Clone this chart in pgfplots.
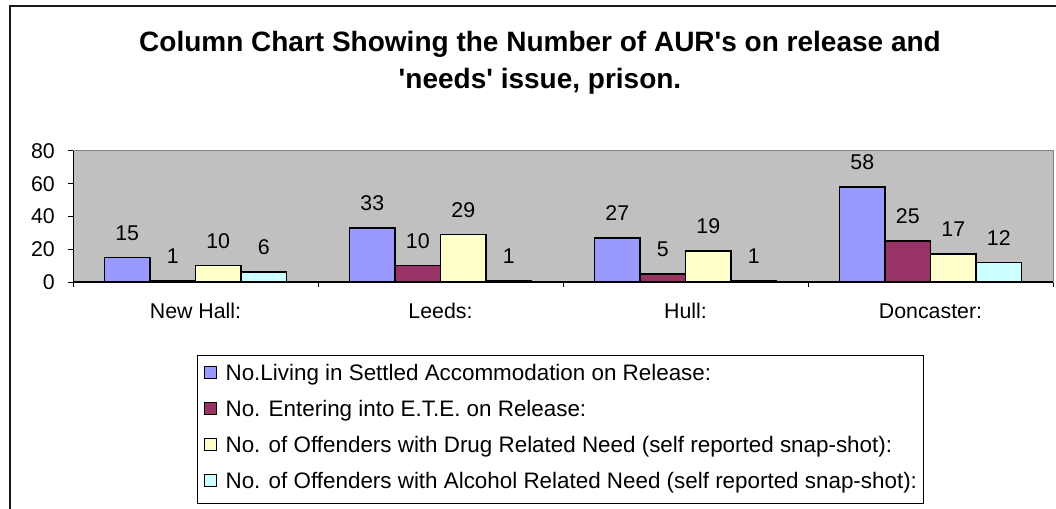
\documentclass[border=0pt]{standalone}
\usepackage{pgfplots}
\pgfplotsset{compat=1.18}
\usepackage{fontspec}
\setmainfont{Liberation Sans}
\definecolor{c1}{HTML}{9999FF}
\definecolor{c2}{HTML}{993366}
\definecolor{c3}{HTML}{FFFFCC}
\definecolor{c4}{HTML}{CCFFFF}
\definecolor{plotbg}{HTML}{C0C0C0}
\definecolor{plotframe}{HTML}{808080}
\begin{document}
\begin{tikzpicture}
\useasboundingbox (0pt,0pt) rectangle (792pt,-381.75pt);
\clip (0pt,0pt) rectangle (792pt,-381.75pt);
\begin{scope}[x=0.75pt,y=-0.75pt]
\draw[line width=1.5pt, black!90] (10,6) rectangle (1080,540);
\node[font=\fontsize{21}{27.75}\selectfont\bfseries, anchor=base, inner sep=0pt] at (540,52) {Column Chart Showing the Number of AUR\textquotesingle s on release and};
\node[font=\fontsize{21}{27.75}\selectfont\bfseries, anchor=base, inner sep=0pt] at (540,89) {\textquotesingle needs\textquotesingle\ issue, prison.};
\end{scope}
\begin{axis}[
  at={(54.75pt,-211.5pt)}, anchor=south west,
  width=735pt, height=98.25pt, scale only axis,
  xmin=0, xmax=4, ymin=0, ymax=80,
  ybar=0pt, bar width=34.125pt,
  axis background/.style={fill=plotbg},
  axis line style={draw=plotframe, line width=0.75pt},
  tick align=outside, major tick length=3.75pt, tick pos=left,
  tick style={draw=black, line width=0.75pt},
  xtick={0,1,2,3,4}, xticklabels={},
  extra x ticks={0.5,1.5,2.5,3.5},
  extra x tick labels={New Hall:,Leeds:,Hull:,Doncaster:},
  extra x tick style={major tick length=0pt, xticklabel style={anchor=base, yshift=-27.4pt}},
  ytick={0,20,40,60,80},
  yticklabel style={inner sep=0pt, xshift=-9.75pt},
  tick label style={font=\fontsize{16}{19}\selectfont},
  /pgf/number format/assume math mode=true,
  nodes near coords,
  every node near coord/.append style={font=\fontsize{16}{19}\selectfont, inner sep=0pt, anchor=base, yshift=13pt, text=black},
  legend style={at={(0.1265,-0.557)}, anchor=north west, draw=black, line width=0.75pt, fill=white,
    font=\fontsize{16.8}{20}\selectfont, inner xsep=5pt, inner ysep=7.5pt, row sep=12pt, column sep=6.5pt,
    nodes={inner sep=0pt, text height=11.5pt, text depth=3.5pt}},
  legend cell align=left,
  legend image code/.code={\draw[#1, draw=black, line width=0.6pt] (0pt,-2.3pt) rectangle (9pt,6.7pt);},
]
\addplot[fill=c1, draw=black, line width=1.1pt] coordinates {(0.5,15) (1.5,33) (2.5,27) (3.5,58)};
\addplot[fill=c2, draw=black, line width=1.1pt] coordinates {(0.5,1) (1.5,10) (2.5,5) (3.5,25)};
\addplot[fill=c3, draw=black, line width=1.1pt] coordinates {(0.5,10) (1.5,29) (2.5,19) (3.5,17)};
\addplot[fill=c4, draw=black, line width=1.1pt] coordinates {(0.5,6) (1.5,1) (2.5,1) (3.5,12)};
\draw[black, line width=1pt] (rel axis cs:0,1) -- (rel axis cs:0,0) -- (rel axis cs:1,0);
\legend{No.Living in Settled Accommodation on Release:,
No. Entering into E.T.E. on Release:,
No. of Offenders with Drug Related Need (self reported snap-shot):,
No. of Offenders with Alcohol Related Need (self reported snap-shot):}
\end{axis}
\end{tikzpicture}
\end{document}
